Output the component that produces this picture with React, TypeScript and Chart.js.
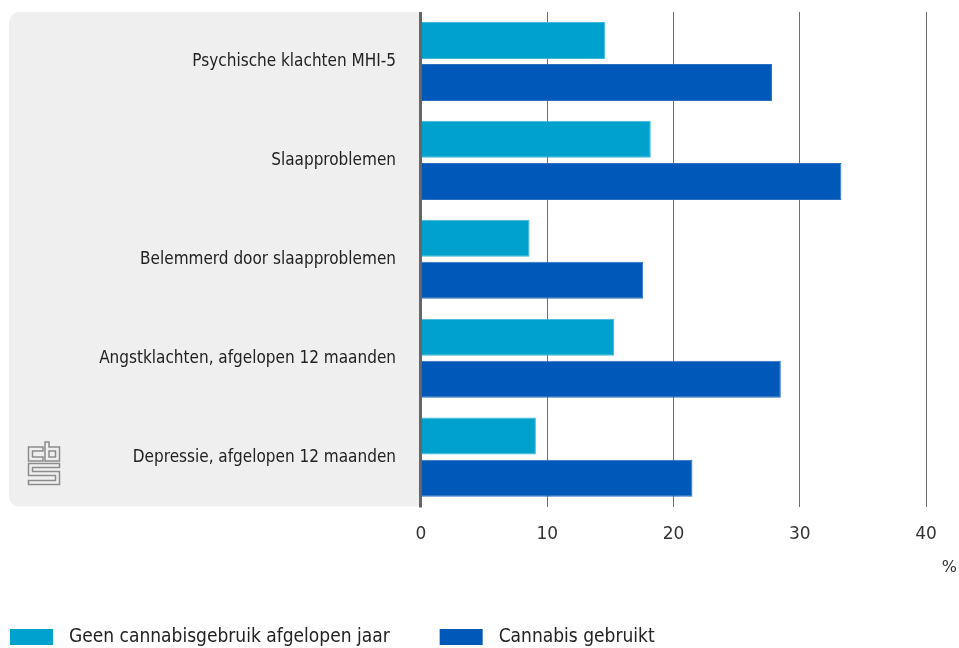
import { useEffect, useRef } from "react";
import { Chart, registerables } from "chart.js";

Chart.register(...registerables);

const categories = [
  "Psychische klachten MHI-5",
  "Slaapproblemen",
  "Belemmerd door slaapproblemen",
  "Angstklachten, afgelopen 12 maanden",
  "Depressie, afgelopen 12 maanden",
];
const seriesNames = ["Geen cannabisgebruik afgelopen jaar", "Cannabis gebruikt"];
const geenValues = [14.6, 18.2, 8.6, 15.3, 9.1];
const gebruiktValues = [27.8, 33.3, 17.6, 28.5, 21.5];
const xTickValues = [0, 10, 20, 30, 40];
const unitLabel = "%";

const LABEL_FONT = "'Liberation Sans Narrow', 'DejaVu Sans Condensed', sans-serif";
const TICK_FONT = "'DejaVu Sans', sans-serif";
const COLORS = ["#00a1cd", "#0058b8"];
const BORDERS = ["#3fb6d9", "#2a6fc2"];

const decorPlugin = {
  id: "decor",
  beforeDraw(chart: any) {
    const { ctx, chartArea } = chart;
    ctx.save();
    ctx.fillStyle = "#efefef";
    ctx.beginPath();
    const x0 = 9;
    const w = chartArea.left - x0;
    const h = chartArea.bottom - chartArea.top;
    (ctx as any).roundRect(x0, chartArea.top, w, h, [10, 0, 0, 10]);
    ctx.fill();
    ctx.restore();
  },
  afterDatasetsDraw(chart: any) {
    const { ctx, chartArea, scales } = chart;
    const x = Math.round(scales.x.getPixelForValue(0)) - 0.5;
    ctx.save();
    ctx.strokeStyle = "#666666";
    ctx.lineWidth = 3;
    ctx.beginPath();
    ctx.moveTo(x, chartArea.top);
    ctx.lineTo(x, chartArea.bottom + 1);
    ctx.stroke();
    ctx.restore();
  },
  afterDraw(chart: any) {
    const { ctx, chartArea } = chart;
    ctx.save();
    // CBS logo
    ctx.strokeStyle = "#8c8c8c";
    ctx.lineWidth = 1.5;
    ctx.lineJoin = "miter";
    const poly = (pts: number[][]) => {
      ctx.beginPath();
      ctx.moveTo(pts[0][0], pts[0][1]);
      for (let i = 1; i < pts.length; i++) ctx.lineTo(pts[i][0], pts[i][1]);
      ctx.closePath();
      ctx.stroke();
    };
    poly([[43, 447], [28.5, 447], [28.5, 461], [43, 461], [43, 457], [32.5, 457], [32.5, 451], [43, 451]]);
    poly([[45, 442], [49, 442], [49, 447], [59.5, 447], [59.5, 461], [45, 461]]);
    poly([[49, 451], [55.5, 451], [55.5, 457], [49, 457]]);
    poly([[28.5, 463.5], [59.5, 463.5], [59.5, 467.5], [32.5, 467.5], [32.5, 471.5], [59.5, 471.5], [59.5, 484.5], [28.5, 484.5], [28.5, 480.5], [55.5, 480.5], [55.5, 475.5], [28.5, 475.5]]);

    // unit label
    ctx.fillStyle = "#333333";
    ctx.font = "16px " + TICK_FONT;
    ctx.textAlign = "right";
    ctx.textBaseline = "middle";
    ctx.fillText(unitLabel, 957, chartArea.bottom + 61);

    // legend
    ctx.font = "19px " + LABEL_FONT;
    ctx.textAlign = "left";
    let x = 10;
    const by = 629;
    chart.data.datasets.forEach((ds: any) => {
      ctx.fillStyle = ds.backgroundColor;
      ctx.fillRect(x, by, 43, 16);
      ctx.fillStyle = "#222222";
      ctx.fillText(ds.label, x + 59, by + 8);
      x = x + 59 + ctx.measureText(ds.label).width + 50;
    });
    ctx.restore();
  },
};

export default function App() {
  const ref = useRef<HTMLCanvasElement | null>(null);
  useEffect(() => {
    document.body.style.margin = "0";
    if (!ref.current) return;
    const chart = new Chart(ref.current, {
      type: "bar",
      data: {
        labels: categories,
        datasets: [
          {
            label: seriesNames[0],
            data: geenValues,
            backgroundColor: COLORS[0],
            borderColor: BORDERS[0],
            borderWidth: 1,
            categoryPercentage: 0.85,
            barPercentage: 0.88,
          },
          {
            label: seriesNames[1],
            data: gebruiktValues,
            backgroundColor: COLORS[1],
            borderColor: BORDERS[1],
            borderWidth: 1,
            categoryPercentage: 0.85,
            barPercentage: 0.88,
          },
        ],
      },
      options: {
        indexAxis: "y",
        responsive: false,
        animation: false,
        layout: { padding: { top: 12, right: 33, bottom: 85, left: 0 } },
        plugins: {
          legend: { display: false },
          tooltip: { enabled: false },
        },
        scales: {
          x: {
            min: 0,
            max: 40,
            afterBuildTicks: (s: any) => {
              s.ticks = xTickValues.map((v) => ({ value: v }));
            },
            ticks: {
              font: { family: TICK_FONT, size: 17 },
              color: "#333333",
              padding: 18,
            },
            grid: {
              color: (c: any) => (c.index === 0 ? "rgba(0,0,0,0)" : "#6e6e6e"),
              lineWidth: 1,
              drawTicks: false,
            },
            border: { display: false },
          },
          y: {
            afterFit: (s: any) => {
              s.width = 421;
              s.paddingTop = 0;
              s.paddingBottom = 0;
            },
            ticks: {
              font: { family: LABEL_FONT, size: 17 },
              color: "#222222",
              padding: 25,
            },
            grid: { display: false, drawTicks: false },
            border: { display: false },
          },
        },
      },
      plugins: [decorPlugin],
    });
    return () => chart.destroy();
  }, []);
  return (
    <div style={{ width: 959, height: 648 }}>
      <canvas ref={ref} width={959} height={648} style={{ display: "block" }} />
    </div>
  );
}
